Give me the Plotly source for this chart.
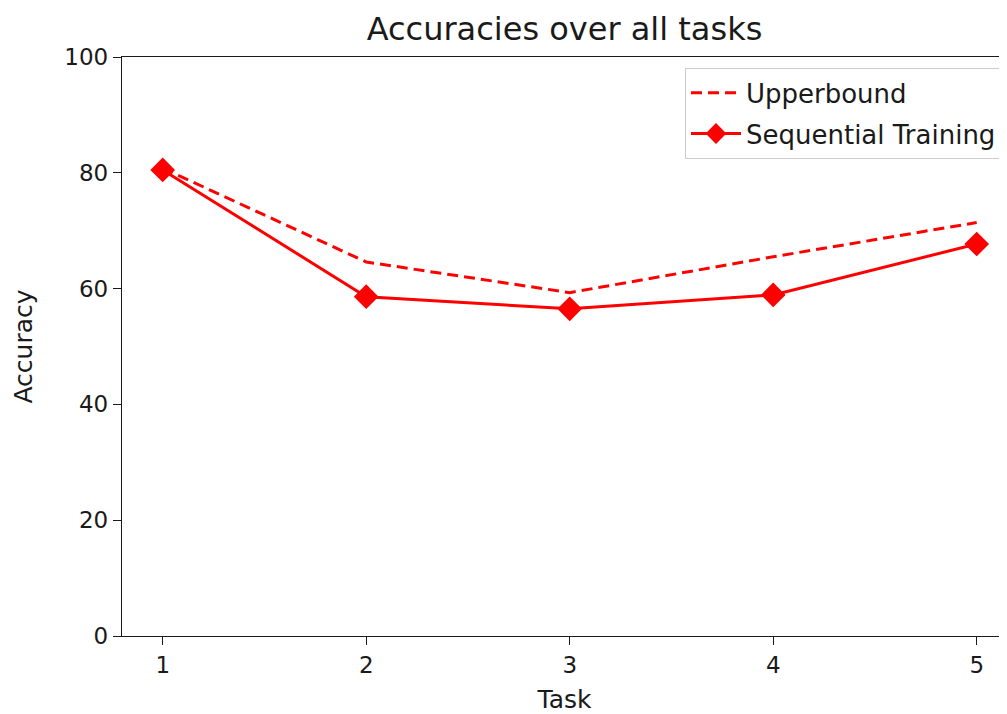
import plotly.graph_objects as go

tasks = [1, 2, 3, 4, 5]
upperbound = [80.8, 64.6, 59.3, 65.5, 71.4]
sequential = [80.5, 58.6, 56.5, 58.9, 67.7]
y_ticks = [0, 20, 40, 60, 80, 100]

FONT = "DejaVu Sans"
W, H = 999, 706  # page body has an 8px margin
fig = go.Figure()
fig.add_trace(go.Scatter(
    x=tasks, y=upperbound, mode="lines", name="Upperbound",
    legendgroup="a",
    line=dict(color="#ff0000", width=3, dash="11px,6px"),
))
fig.add_trace(go.Scatter(
    x=tasks, y=sequential, mode="lines+markers", name="Sequential Training",
    legendgroup="b",
    line=dict(color="#ff0000", width=3),
    marker=dict(symbol="diamond", size=19, color="#ff0000"),
))

fig.update_layout(
    width=W, height=H,
    margin=dict(l=114, r=0, t=49, b=78),
    paper_bgcolor="white", plot_bgcolor="white",
    font=dict(family=FONT, size=23, color="#1a1a1a"),
    title=dict(text="Accuracies over all tasks", x=0.5, xref="paper",
               xanchor="center", y=1 - 21 / H, yanchor="middle",
               font=dict(size=32, color="#1a1a1a")),
    showlegend=True,
    legend=dict(x=0.994, y=0.981, xanchor="right", yanchor="top",
                bgcolor="white", bordercolor="#cccccc", borderwidth=1.3,
                font=dict(size=26), tracegroupgap=4, itemwidth=50),
    xaxis=dict(range=[0.8, 0.8 + 885 / 203.5], tickvals=tasks,
               ticktext=[str(t) for t in tasks],
               showline=True, linecolor="#1a1a1a", linewidth=1.4, mirror=True,
               ticks="outside", ticklen=8, tickwidth=1.4, tickcolor="#1a1a1a",
               showgrid=False, zeroline=False,
               title=dict(text="Task", font=dict(size=25), standoff=13)),
    yaxis=dict(range=[0, 100], tickvals=y_ticks,
               showline=True, linecolor="#1a1a1a", linewidth=1.4, mirror=False,
               ticks="outside", ticklen=8, tickwidth=1.4, tickcolor="#1a1a1a",
               showgrid=False, zeroline=False,
               title=dict(text="Accuracy", font=dict(size=25), standoff=24)),
)

fig.write_html("out.html")
